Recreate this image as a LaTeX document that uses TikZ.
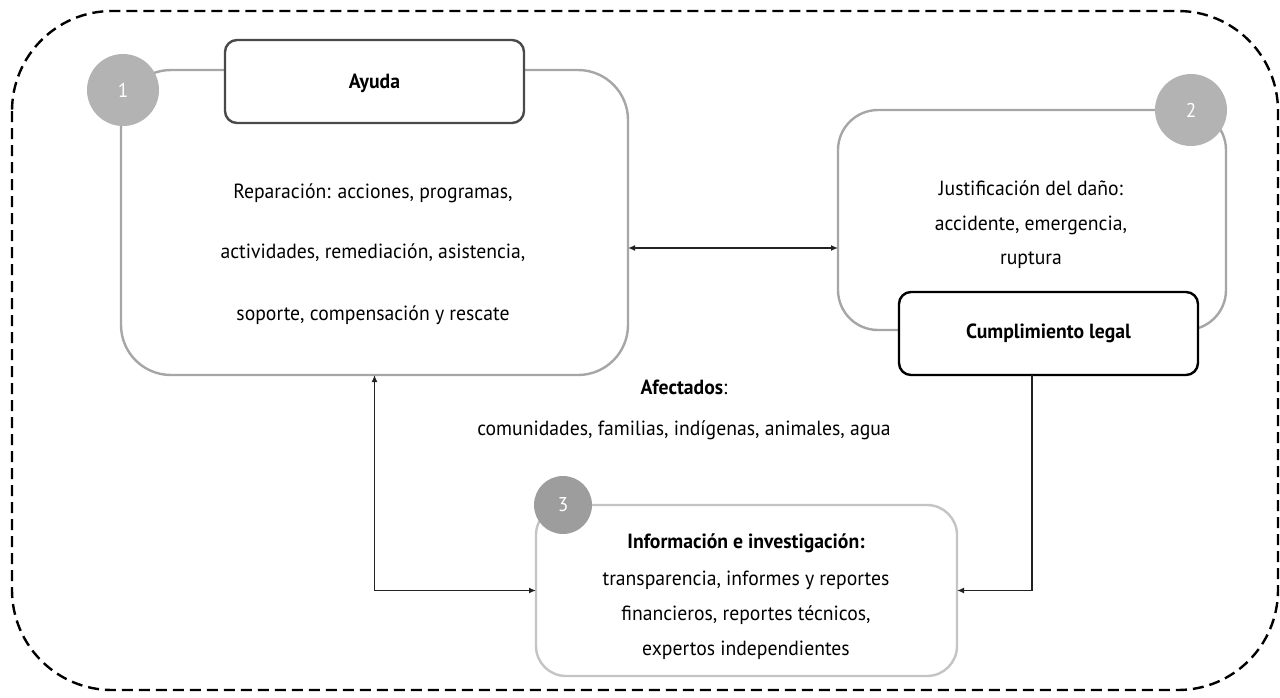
\documentclass[tikz,border=0pt]{standalone}
\usepackage{fontspec}
\setmainfont{PT Sans}[FakeStretch=0.96]
\usetikzlibrary{arrows.meta,calc}
\definecolor{boxgray}{HTML}{A6A6A6}
\definecolor{boxlight}{HTML}{C4C4C4}
\definecolor{circlight}{HTML}{B3B3B3}
\definecolor{circdark}{HTML}{9D9D9D}
\definecolor{darkline}{HTML}{4A4A4A}
\definecolor{conncol}{HTML}{222222}
\begin{document}
\begin{tikzpicture}[x=1pt,y=-1pt,
  every node/.style={inner sep=0pt, outer sep=0pt},
  txt/.style={font=\fontsize{20.5}{24}\selectfont, text=black, align=center},
  btxt/.style={font=\fontsize{20.5}{24}\selectfont\bfseries, text=black, align=center},
  bigbox/.style={draw=boxgray, line width=2.4pt, fill=white},
  titlebox/.style={draw, line width=2.4pt, fill=white, rounded corners=12pt},
  numcirc/.style={circle, fill=circlight, minimum size=72pt, text=white, font=\fontsize{20}{24}\selectfont},
  conn/.style={draw=conncol, line width=1.6pt, arrows={-Latex[length=7pt,width=6pt]}},
]
\useasboundingbox (0,0) rectangle (1280,697);
% outer dashed frame
\draw[line width=2.4pt, dash pattern=on 11pt off 6pt, rounded corners=100pt] (12,11) rectangle (1278,690);

% box 1
\node[bigbox, rounded corners=50pt, minimum width=507pt, minimum height=305pt] (box1) at (374.5,222.5) {};
\node[numcirc] (c1) at (123,90) {1};
\node[titlebox, draw=darkline, minimum width=299pt, minimum height=83pt] (ayuda) at (374.5,81.5) {};
\node[btxt] (ayudat) at (374.5,83) {Ayuda};
\node[txt] (b1l1) at (373,193) {Reparación: acciones, programas,};
\node[txt] (b1l2) at (373,253) {actividades, remediación, asistencia,};
\node[txt] (b1l3) at (373,315) {soporte, compensación y rescate};

% box 2
\node[bigbox, rounded corners=40pt, minimum width=388pt, minimum height=220pt] (box2) at (1032,220) {};
\node[numcirc] (c2) at (1191,110) {2};
\node[txt] (b2l1) at (1031,188) {Justificación del daño:};
\node[txt] (b2l2) at (1031,225) {accidente, emergencia,};
\node[txt] (b2l3) at (1031,260) {ruptura};
\node[titlebox, draw=black, minimum width=299pt, minimum height=83pt] (cumpl) at (1048.5,333.5) {};
\node[btxt] (cumplt) at (1048.5,333) {Cumplimiento legal};

% affected
\node[txt] (afect) at (684,387) {\textbf{Afectados}:};
\node[txt] (afectl) at (684,430) {comunidades, familias, indígenas, animales, agua};

% box 3
\node[draw=boxlight, line width=2.4pt, fill=white, rounded corners=30pt, minimum width=421pt, minimum height=171pt] (box3) at (746.5,590.5) {};
\node[numcirc, fill=circdark, minimum size=58pt] (c3) at (563,505) {3};
\node[btxt] (b3l1) at (746,543) {Información e investigación:};
\node[txt] (b3l2) at (746,580) {transparencia, informes y reportes};
\node[txt] (b3l3) at (746,615) {financieros, reportes técnicos,};
\node[txt] (b3l4) at (746,650) {expertos independientes};

% connectors
\coordinate (hy) at (0,248);
\coordinate (vx2) at (1032,0);
\draw[conn, arrows={Latex[length=7pt,width=6pt]-Latex[length=7pt,width=6pt]}] (box1.east |- hy) -- (box2.west |- hy);
\draw[conn, arrows={Latex[length=7pt,width=6pt]-Latex[length=7pt,width=6pt]}] (box1.south) |- (box3.west);
\draw[conn] (cumpl.south -| vx2) |- (box3.east);
\end{tikzpicture}
\end{document}
